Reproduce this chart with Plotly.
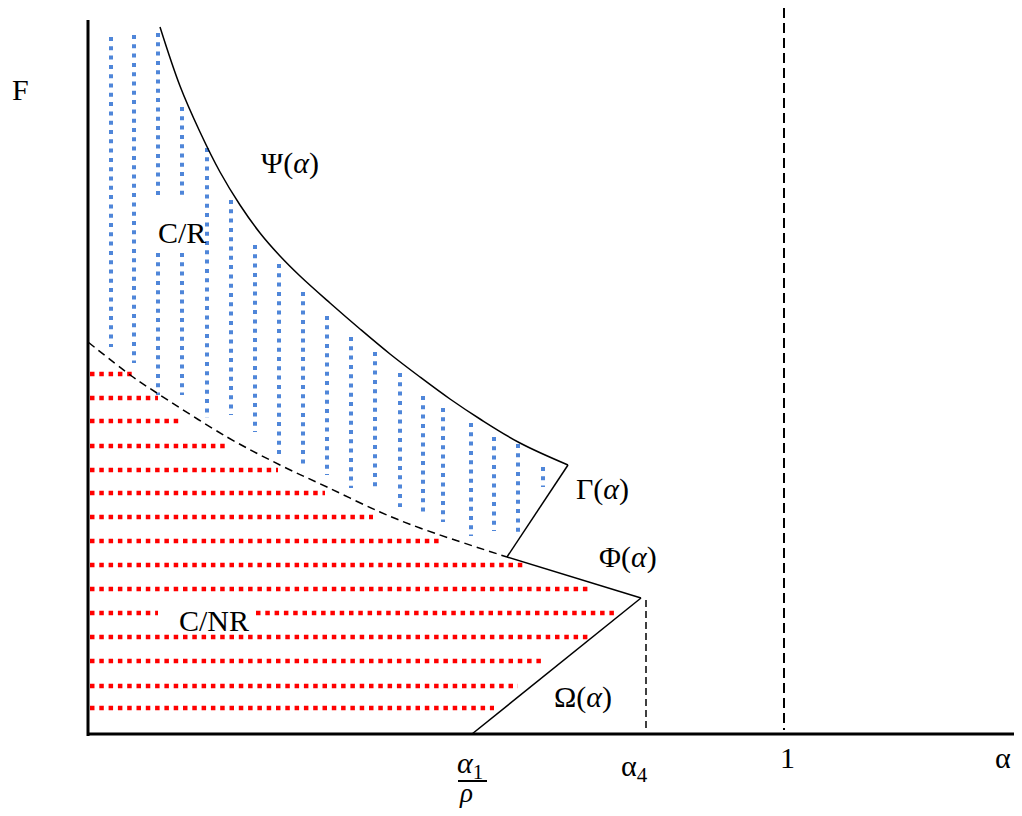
import plotly.graph_objects as go

# schematic canvas: x to the right, y downwards (same units as the picture)
W, H = 1022, 816
PAGE_MARGIN = 8  # default body margin of the html page

# Psi(alpha) upper boundary
psi_x = [160, 180, 200, 220, 240, 260, 280, 300, 330, 360, 390, 420, 450, 480, 520, 568]
psi_y = [27, 86, 132, 172, 205, 233, 256, 276, 303, 329, 354, 377, 399, 419, 443, 465]

# Gamma, Phi, Omega segments
gamma_x = [568, 507]
gamma_y = [465, 557]
phi_x = [507, 641]
phi_y = [557, 598]
omega_x = [641, 472]
omega_y = [598, 734]

# dashed separation curve between C/R and C/NR
sep_x = [88, 133, 160, 227, 280, 327, 380, 420, 507]
sep_y = [342, 377, 395, 437, 465, 487, 512, 528, 557]

# blue (C/R) vertical hatch columns
blue_x = [111, 134, 158, 182, 207, 231, 255, 279, 303, 327, 351, 375, 400, 423, 443, 471, 494, 518, 543]
blue_top = [37, 35, 33, 107, 148, 200, 245, 264, 292, 316, 337, 352, 373, 396, 408, 423, 437, 444, 467]
blue_bottom = [347, 363, 395, 395, 418, 415, 432, 458, 467, 475, 488, 487, 507, 514, 522, 536, 531, 536, 487]
cr_gap_cols = [158, 182]
cr_gap = [197, 253]

# red (C/NR) horizontal hatch rows
red_y = [374, 398, 421, 446, 470, 493, 517, 541, 565, 589, 613, 637, 661, 686, 708]
red_end = [133, 158, 182, 229, 278, 325, 373, 443, 525, 590, 614, 590, 542, 518, 494]
cnr_gap_row = 613
cnr_gap = [158, 256]

AXIS_X0, AXIS_Y0 = 88, 734
alpha4_x = 646
one_x = 784

fig = go.Figure()


def add_line(x, y, color="black", width=1.5, dash="solid", shape="linear"):
    fig.add_trace(go.Scatter(x=x, y=y, mode="lines", hoverinfo="skip",
                             line=dict(color=color, width=width, dash=dash, shape=shape)))


# blue hatch
bx, by = [], []
for x, t, b in zip(blue_x, blue_top, blue_bottom):
    if x in cr_gap_cols:
        bx += [x, x, None, x, x, None]
        by += [t, cr_gap[0], None, cr_gap[1], b, None]
    else:
        bx += [x, x, None]
        by += [t, b, None]
add_line(bx, by, color="#4f86d9", width=4, dash="4px,5.3px")

# red hatch
rx, ry = [], []
for y, e in zip(red_y, red_end):
    if y == cnr_gap_row:
        rx += [AXIS_X0 + 2, cnr_gap[0], None, cnr_gap[1], e, None]
        ry += [y, y, None, y, y, None]
    else:
        rx += [AXIS_X0 + 2, e, None]
        ry += [y, y, None]
add_line(rx, ry, color="#ff0000", width=4.5, dash="4.5px,4.8px")

# curves
add_line(psi_x, psi_y, shape="spline")
add_line(gamma_x, gamma_y)
add_line(phi_x, phi_y)
add_line(omega_x, omega_y)
add_line(sep_x, sep_y, width=1.5, dash="8px,5px", shape="spline")
add_line([alpha4_x, alpha4_x], [600, 728], width=1.5, dash="7px,4px")
add_line([one_x, one_x], [8, 730], width=2, dash="10px,5px")

# axes
add_line([AXIS_X0, AXIS_X0], [20, AXIS_Y0 + 2], width=3)
add_line([AXIS_X0, W], [AXIS_Y0, AXIS_Y0], width=3)

font = dict(family="Liberation Serif", size=30, color="black")
labels = [
    (20, 89, "F", 30),
    (290, 163, "Ψ(<i>α</i>)", 30),
    (182, 232, "C/R", 30),
    (602, 489, "Γ(<i>α</i>)", 30),
    (628, 557, "Φ(<i>α</i>)", 30),
    (214, 620, "C/NR", 30),
    (583, 697, "Ω(<i>α</i>)", 30),
    (470, 765, "<i>α</i><sub>1</sub>", 30),
    (466, 793, "<i>ρ</i>", 27),
    (634, 768, "α<sub>4</sub>", 30),
    (787, 757, "1", 30),
    (1003, 757, "α", 30),
]
for x, y, t, s in labels:
    fig.add_annotation(x=x, y=y, text=t, showarrow=False, font=dict(font, size=s),
                       xanchor="center", yanchor="middle")

# fraction bar of alpha1/rho
add_line([458, 487], [781, 781], width=2)

fig.update_layout(
    width=W - 2 * PAGE_MARGIN, height=H - 2 * PAGE_MARGIN,
    margin=dict(l=0, r=0, t=0, b=0),
    paper_bgcolor="white", plot_bgcolor="white",
    showlegend=False,
    xaxis=dict(range=[PAGE_MARGIN, W - PAGE_MARGIN], visible=False, fixedrange=True),
    yaxis=dict(range=[H - PAGE_MARGIN, PAGE_MARGIN], visible=False, fixedrange=True),
)

fig.write_html("out.html")
